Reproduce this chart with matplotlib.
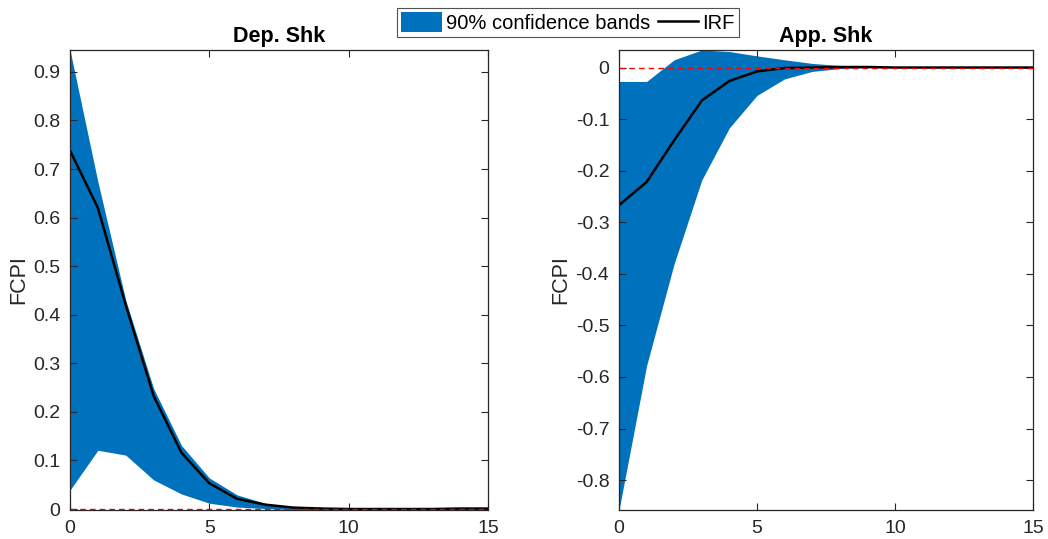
import numpy as np
import matplotlib
matplotlib.use("Agg")
import matplotlib.pyplot as plt
from matplotlib.patches import Patch
from matplotlib.lines import Line2D

plt.rcParams['font.family'] = ['Liberation Sans', 'DejaVu Sans']
plt.rcParams['axes.unicode_minus'] = False

#%% datos
horizon = np.arange(16)

# Dep. Shk
dep_irf = [0.738, 0.620, 0.420, 0.233, 0.116, 0.053, 0.021, 0.009, 0.003, 0.001,
           0.000, 0.000, 0.000, 0.000, 0.001, 0.001]
dep_upper = [0.945, 0.674, 0.430, 0.248, 0.131, 0.064, 0.029, 0.012, 0.004, 0.002,
             0.001, 0.001, 0.001, 0.001, 0.002, 0.003]
dep_lower = [0.039, 0.121, 0.111, 0.060, 0.031, 0.012, 0.004, 0.001, -0.001, -0.002,
             -0.002, -0.002, -0.002, -0.002, -0.001, -0.001]

# App. Shk
app_irf = [-0.267, -0.222, -0.141, -0.064, -0.026, -0.0075, -0.001, 0.000, 0.001, 0.001,
           0.000, 0.000, 0.000, 0.000, 0.000, 0.000]
app_upper = [-0.027, -0.027, 0.015, 0.034, 0.031, 0.0226, 0.015, 0.008, 0.004, 0.002,
             0.001, 0.001, 0.001, 0.000, 0.000, 0.000]
app_lower = [-0.858, -0.578, -0.380, -0.218, -0.117, -0.054, -0.022, -0.0075, -0.002, 0.000,
             0.000, 0.000, 0.000, 0.000, 0.000, 0.000]

titles = ['Dep. Shk', 'App. Shk']
ylabel = 'FCPI'
legend_labels = ['90% confidence bands', 'IRF']

band_color = '#0072BD'
axis_color = '#262626'

#%%
fig = plt.figure(figsize=(10.48, 5.39), dpi=100)
ax1 = fig.add_axes([70/1048, 29/539, 418/1048, 460/539])
ax2 = fig.add_axes([619/1048, 29/539, 414/1048, 460/539])


def irfPanel(ax, irf, upper, lower, title, yticks):
    ax.fill_between(horizon, lower, upper, color=band_color, linewidth=0)
    ax.plot(horizon, irf, color='black', linewidth=1.8)
    ax.axhline(0, color='#FF0000', linestyle='--', linewidth=1.0, dashes=(4, 3))
    ax.set_xlim(0, 15)
    ax.set_ylim(min(min(lower), min(irf)), max(max(upper), max(irf)))
    ax.set_xticks([0, 5, 10, 15])
    ax.set_yticks(yticks)
    ax.set_yticklabels(['0' if abs(v) < 1e-9 else '%g' % round(v, 1) for v in yticks])
    ax.tick_params(direction='in', top=True, right=True, labelsize=14,
                   colors=axis_color, length=5, width=0.8, pad=7)
    for s in ax.spines.values():
        s.set_color(axis_color)
        s.set_linewidth(0.9)
    ax.set_title(title, fontsize=15.5, fontweight='bold', pad=6)
    ax.set_ylabel(ylabel, fontsize=15.5, color=axis_color)


irfPanel(ax1, dep_irf, dep_upper, dep_lower, titles[0], np.arange(0, 0.95, 0.1))
irfPanel(ax2, app_irf, app_upper, app_lower, titles[1], np.arange(-0.8, 0.05, 0.1))
ax1.yaxis.set_label_coords(-0.097, 0.5)
ax2.yaxis.set_label_coords(-0.116, 0.5)

handles = [Patch(facecolor=band_color, edgecolor='none'),
           Line2D([0], [0], color='black', linewidth=1.8)]
leg = fig.legend(handles, legend_labels, loc='center', ncol=2,
                 bbox_to_anchor=(568/1048, 1 - 22.5/539), fontsize=14.5,
                 frameon=True, fancybox=False, handlelength=2.0, handleheight=1.1,
                 handletextpad=0.2, columnspacing=0.4, borderpad=0.2,
                 borderaxespad=0)
leg.get_frame().set_edgecolor(axis_color)
leg.get_frame().set_linewidth(0.8)

fig.savefig('out.png', dpi=100)
